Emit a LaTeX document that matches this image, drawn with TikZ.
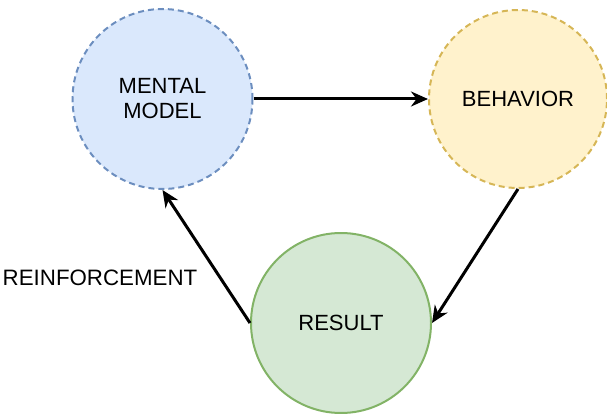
\documentclass[tikz,border=0pt]{standalone}
\usepackage{fontspec}
\setmainfont{Liberation Sans}
\usetikzlibrary{arrows.meta}
\definecolor{mmfill}{HTML}{DAE8FC}
\definecolor{mmline}{HTML}{6C8EBF}
\definecolor{bhfill}{HTML}{FFF2CC}
\definecolor{bhline}{HTML}{D6B656}
\definecolor{rsfill}{HTML}{D5E8D4}
\definecolor{rsline}{HTML}{82B366}
\begin{document}
\begin{tikzpicture}[x=1pt, y=-1pt]
\tikzset{
    >={Stealth[length=17pt, width=15pt]},
    fluxo/.style={->, line width=3pt, black},
    estado/.style={circle, inner sep=0pt, minimum size=180pt, line width=2pt,
                   align=center, font=\fontsize{22}{25}\selectfont},
    tracejado/.style={dash pattern=on 6pt off 4pt}
}
\useasboundingbox (0,0) rectangle (607,414);
\node[estado, tracejado, draw=mmline, fill=mmfill] (mental) at (162.5, 99) {MENTAL\\MODEL};
\node[estado, tracejado, draw=bhline, fill=bhfill, minimum size=178pt] (behavior) at (518, 99) {BEHAVIOR};
\node[estado, draw=rsline, fill=rsfill] (result) at (341, 323) {RESULT};
% Ciclo
\draw[fluxo] (mental.east) -- (behavior.west);
\draw[fluxo] (behavior.south) -- (result.east);
\draw[fluxo] (result.west) -- (mental.south);
% Rótulo
\node[font=\fontsize{22.3}{25}\selectfont, inner sep=0pt] (reforco) at (100, 278) {REINFORCEMENT};
\end{tikzpicture}
\end{document}
